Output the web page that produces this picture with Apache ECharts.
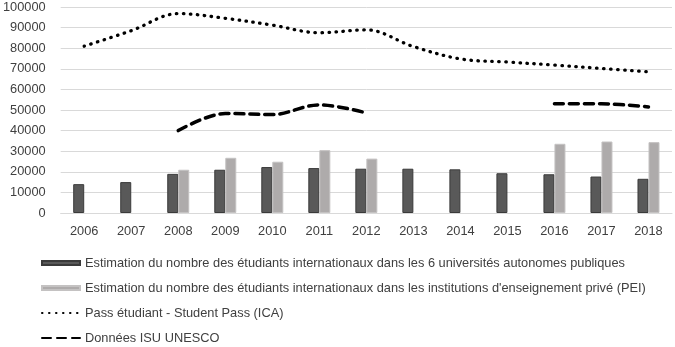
<!DOCTYPE html>
<html><head><meta charset="utf-8">
<script src="https://cdn.jsdelivr.net/npm/echarts@6/dist/echarts.min.js"></script>
<style>html,body{margin:0;padding:0;background:#fff}#c{width:675px;height:347px}</style>
</head><body><div id="c"></div>
<script>
const years = ['2006','2007','2008','2009','2010','2011','2012','2013','2014','2015','2016','2017','2018'];
const yTicks = [0,10000,20000,30000,40000,50000,60000,70000,80000,90000,100000];
const publicUniv = [14000,15000,19000,21000,22300,21800,21500,21500,21200,19300,18800,17700,16600];
const privatePEI = [null,null,21000,26800,24900,30500,26400,null,null,null,33600,34700,34400];
const studentPass = [81000,88500,96800,94500,91200,87500,88900,80800,74800,73300,71800,70200,68500];
const unesco = [null,null,40000,48300,47800,52500,48600,null,null,null,53000,53000,51500];
const names = [
  'Estimation du nombre des étudiants internationaux dans les 6 universités autonomes publiques',
  "Estimation du nombre des étudiants internationaux dans les institutions d'enseignement privé (PEI)",
  'Pass étudiant - Student Pass (ICA)',
  'Données ISU UNESCO'
];
const FONT = 'Liberation Sans';
const FS = 12.8;
const noDot = {color:'rgba(0,0,0,0)', borderWidth:0};
const chart = echarts.init(document.getElementById('c'), null, {renderer:'canvas'});
chart.setOption({
  animation:false,
  grid:{left:56,right:3,top:7,bottom:134},
  legend:{
    orient:'vertical', left:41, top:256, padding:0, itemWidth:38, itemHeight:4, itemGap:11,
    textStyle:{fontFamily:FONT,fontSize:FS,color:'#404040',lineHeight:14},
    data:[{name:names[0],icon:'rect'},{name:names[1],icon:'rect'},
          {name:names[2],itemStyle:noDot},{name:names[3],itemStyle:noDot}]
  },
  xAxis:{
    type:'category', data:years,
    axisLine:{lineStyle:{color:'#d9d9d9'}}, axisTick:{show:false},
    axisLabel:{fontFamily:FONT,fontSize:FS,color:'#404040',margin:12}
  },
  yAxis:{
    type:'value', min:yTicks[0], max:yTicks[yTicks.length-1], interval:10000,
    axisLine:{show:false}, axisTick:{show:false},
    splitLine:{lineStyle:{color:'#d9d9d9'}},
    axisLabel:{fontFamily:FONT,fontSize:FS,color:'#404040',margin:15,formatter:v=>String(v)}
  },
  series:[
    {name:names[0],type:'bar',data:publicUniv,barWidth:11,barGap:'0%',
     itemStyle:{color:'#595959',borderColor:'#3a3a3a',borderWidth:1}},
    {name:names[1],type:'bar',data:privatePEI,barWidth:11,barGap:'0%',
     itemStyle:{color:'#aeabab',borderColor:'#c4c2c2',borderWidth:1}},
    {name:names[2],type:'line',data:studentPass,smooth:0.35,symbol:'none',connectNulls:false,
     lineStyle:{color:'#000',width:3.3,type:[0.5,6.5],cap:'round'},itemStyle:{color:'#000'}},
    {name:names[3],type:'line',data:unesco,smooth:0.35,symbol:'none',connectNulls:false,
     lineStyle:{color:'#000',width:3.5,type:[9,6],cap:'round'},itemStyle:{color:'#000'}}
  ]
});
</script></body></html>
